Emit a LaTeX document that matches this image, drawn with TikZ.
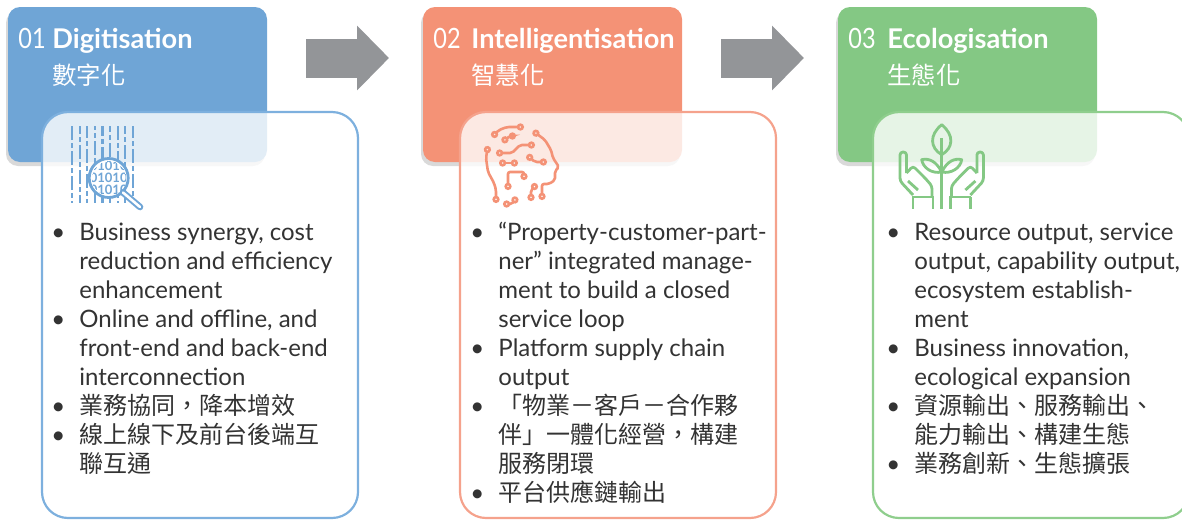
\documentclass[tikz,border=0pt]{standalone}
\usepackage{fontspec}
\setmainfont{Lato}
\newfontfamily\cjk{Noto Sans CJK TC}
\newfontfamily\numfont[FakeStretch=0.84]{Lato}
\usetikzlibrary{arrows.meta,shadows}
\definecolor{digblue}{RGB}{111,165,214}
\definecolor{digline}{RGB}{125,176,222}
\definecolor{intorange}{RGB}{244,146,118}
\definecolor{intline}{RGB}{245,162,140}
\definecolor{ecogreen}{RGB}{132,200,132}
\definecolor{ecoline}{RGB}{143,206,141}
\definecolor{arrowgrey}{RGB}{147,149,152}
\definecolor{bodytext}{RGB}{51,51,51}
\newcommand{\itm}{\makebox[13pt][l]{\hspace{-1pt}\textbullet}}
\tikzset{
    %Define style for header boxes
    header/.style={
           rounded corners=6pt,
           minimum width=129.5pt,
           minimum height=77.5pt,
           inner sep=0pt,
           drop shadow={shadow xshift=-1pt, shadow yshift=-2pt, opacity=.3}},
    %Define style for content panels
    panel/.style={
           rounded corners=13pt,
           line width=1.1pt,
           fill=white, fill opacity=.8,
           minimum width=158pt,
           minimum height=203pt,
           inner sep=0pt},
    % Define text styles
    num/.style={anchor=base west, inner sep=0pt, text=white,
           font=\numfont\fontsize{14}{16}\selectfont},
    title/.style={num, font=\bfseries\fontsize{13.6}{16}\selectfont},
    cntitle/.style={num, font=\cjk\fontsize{12.2}{14}\selectfont},
    body/.style={anchor=base west, inner sep=0pt, text=bodytext,
           font=\fontsize{12}{14.5}\selectfont},
    bits/.style={font=\bfseries\fontsize{6.5}{7}\selectfont, text=digblue, inner sep=0pt},
    % Define arrow style
    flow/.style={
           draw=arrowgrey,
           line width=19.5pt,
           -{Triangle[length=16pt,width=31.5pt]}},
    trace/.style={draw=intorange, line width=1.3pt, rounded corners=1pt,
           {Circle[open,length=3.6pt,width=3.6pt]}-{Circle[open,length=3.6pt,width=3.6pt]}}
}
\newcommand{\hand}{%
  \draw[rounded corners=1.5pt] (913,195) -- (900,181) -- (900,152) -- (906.5,152) -- (906.5,173);
  \draw[rounded corners=1.5pt] (906.5,173) -- (913,166) -- (925,178) -- (932,186) -- (932,196);
  \draw (908,181) -- (918,190);
  \draw (912,197) -- (934,197);
  \draw (913,197) -- (913,209) (933,197) -- (933,209);}

\begin{document}
\begin{tikzpicture}[x=0.5pt,y=-0.5pt]
\useasboundingbox (0,0) rectangle (1182,520);
\clip (0,0) rectangle (1182,520);

% headers
\node[header, fill=digblue](hd1) at (137.5,84.5){};
\node[header, fill=intorange](hd2) at (552.5,84.5){};
\node[header, fill=ecogreen](hd3) at (967.5,84.5){};

% arrows between headers
\coordinate (a1s) at (306,58);
\coordinate (a1e) at (389,58);
\coordinate (a2s) at (721,58);
\coordinate (a2e) at (804,58);
\draw[flow] (a1s) -- (a1e);
\draw[flow] (a2s) -- (a2e);

% panels
\node[panel, draw=digline](pn1) at (200,315){};
\node[panel, draw=intline](pn2) at (618,315){};
\node[panel, draw=ecoline](pn3) at (1031,315){};

% header texts
\node[num](n1) at (18,48){01};
\node[title](t1) at (52,48){Digitisation};
\node[cntitle](c1) at (52,84){數字化};
\node[num](n2) at (433,48){02};
\node[title](t2) at (471,48){Intelligentisation};
\node[cntitle](c2) at (471,84){智慧化};
\node[num](n3) at (848,48){03};
\node[title](t3) at (887,48){Ecologisation};
\node[cntitle](c3) at (887,84){生態化};

% icon 1: data and lens
\begin{scope}[digblue, line width=1.1pt]
\foreach \x/\p in {72/0,79.6/3,87.2/1,94.8/5,102.4/2,110/4,117.6/0,125.2/3,132.8/1}
  \draw[dash pattern=on 7pt off 1.5pt on 2.5pt off 1.5pt, dash phase=\p pt] (\x,126) -- (\x,203);
\fill[white] (108.7,178) circle (20);
\begin{scope}
\clip (108.7,178) circle (17);
\node[bits](bin1) at (108.7,166){01010};
\node[bits](bin2) at (108.7,178){1010101};
\node[bits](bin3) at (108.7,190){01010};
\end{scope}
\draw[line width=1.4pt] (108.7,178) circle (19.5);
\draw[line width=1pt, double=white, double distance=1.3pt, line cap=round] (123,192.5) -- (140,207);
\end{scope}

% icon 2: circuit head
\draw[trace] (492,137) -- (499,130) -- (507,127) -- (524,127);
\draw[trace] (533,131) -- (545,140) -- (551,150) -- (553,158) -- (559,167) -- (555,171) -- (555,180) -- (549,184) -- (542,184) -- (542,200);
\draw[trace] (488,146) -- (486,158) -- (488,172) -- (494,183) -- (496,190) -- (496,203);
\draw[trace] (496,153) -- (512,153) -- (520,145) -- (535,145);
\draw[trace] (499,163) -- (518,163);
\draw[trace] (502,142) -- (510,136) -- (516,136);
\draw[trace] (527,155) -- (535,162) -- (547,162);
\draw[trace] (508,190) -- (508,172) -- (524,172) -- (524,180);
\draw[trace] (503,204) -- (512,204) -- (517,197);
\draw[trace] (531,201) -- (531,190) -- (537,184);

% icon 3: plant in hands
\begin{scope}[ecogreen, line width=1.4pt, line join=round]
\draw (941.7,154.7) .. controls (930,148) and (929,135) .. (941.7,124.7) .. controls (954.4,135) and (953.4,148) .. (941.7,154.7);
\draw (941.7,138) -- (941.7,209);
\draw (941.7,172) .. controls (936,161) and (929,158) .. (921.7,159.7) .. controls (923,168) and (932,174) .. (941.7,172);
\draw (941.7,172) .. controls (947.4,161) and (954.4,158) .. (961.7,159.7) .. controls (960.4,168) and (951.4,174) .. (941.7,172);
\hand
\begin{scope}[shift={(1883.4,0)}, xscale=-1]
\hand
\end{scope}
\end{scope}

% bullet texts
\node[body](b1) at (53,240){\begin{tabular}[t]{@{}l@{}l@{}}
\itm & Business synergy, cost\\
 & reduction and efficiency\\
 & enhancement\\
\itm & Online and offline, and\\
 & front-end and back-end\\
 & interconnection\\
\itm & {\cjk 業務協同，降本增效}\\
\itm & {\cjk 線上線下及前台後端互}\\
 & {\cjk 聯互通}
\end{tabular}};
\node[body](b2) at (472,240){\begin{tabular}[t]{@{}l@{}l@{}}
\itm & “Property-customer-part-\\
 & ner” integrated manage-\\
 & ment to build a closed\\
 & service loop\\
\itm & Platform supply chain\\
 & output\\
\itm & {\cjk 「物業－客戶－合作夥}\\
 & {\cjk 伴」一體化經營，構建}\\
 & {\cjk 服務閉環}\\
\itm & {\cjk 平台供應鏈輸出}
\end{tabular}};
\node[body](b3) at (888,240){\begin{tabular}[t]{@{}l@{}l@{}}
\itm & Resource output, service\\
 & output, capability output,\\
 & ecosystem establish-\\
 & ment\\
\itm & Business innovation,\\
 & ecological expansion\\
\itm & {\cjk 資源輸出、服務輸出、}\\
 & {\cjk 能力輸出、構建生態}\\
\itm & {\cjk 業務創新、生態擴張}
\end{tabular}};
\end{tikzpicture}
\end{document}
